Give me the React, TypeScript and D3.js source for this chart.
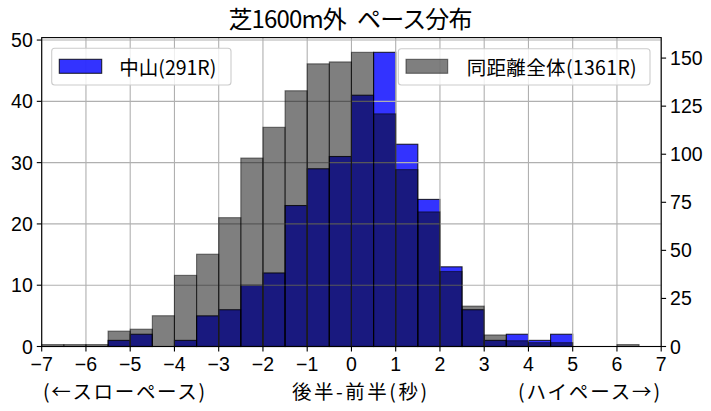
import React from "react";
import * as d3 from "d3";

const binStarts = [-7, -6.5, -6, -5.5, -5, -4.5, -4, -3.5, -3, -2.5, -2, -1.5, -1, -0.5, 0, 0.5, 1, 1.5, 2, 2.5, 3, 3.5, 4, 4.5, 5, 5.5, 6, 6.5];
const nakayama = [0, 0, 0, 1, 2, 0, 1, 5, 6, 10, 12, 23, 29, 31, 41, 48, 33, 24, 13, 6, 1, 2, 1, 2, 0, 0, 0, 0];
const allSame = [1, 1, 1, 8, 9, 16, 37, 48, 67, 98, 114, 133, 147, 148, 153, 121, 92, 70, 39, 21, 6, 3, 2, 2, 0, 0, 1, 0];
const binWidth = 0.5;
const xTicks = [-7, -6, -5, -4, -3, -2, -1, 0, 1, 2, 3, 4, 5, 6, 7];
const leftTicks = [0, 10, 20, 30, 40, 50];
const rightTicks = [0, 25, 50, 75, 100, 125, 150];
const title = "芝1600m外\u2002ペース分布";
const legendLeft = "中山(291R)";
const legendRight = "同距離全体(1361R)";
const xLabel = "後半-前半(秒)";
const slowLabel = "(←スローペース)";
const highLabel = "(ハイペース→)";

const FONT = "'Noto Sans CJK JP', 'Noto Sans', sans-serif";
const NUMFONT = "'Liberation Sans', 'Noto Sans', sans-serif";

export default function App() {
  const W = 711, H = 411;
  const left = 41.7, right = 661.2, top = 37.6, bottom = 346.5;
  const x = d3.scaleLinear().domain([-7, 7]).range([left, right]);
  const yL = d3.scaleLinear().domain([0, d3.max(nakayama)! * 1.05]).range([bottom, top]);
  const yR = d3.scaleLinear().domain([0, d3.max(allSame)! * 1.05]).range([bottom, top]);
  const tickLen = 4.9;
  const fs = 19.5;

  return (
    <svg width={W} height={H} style={{ position: "absolute", left: 0, top: 0, background: "#fff" }} fontFamily={FONT}>
      {/* blue bars (ax1) */}
      <g>
        {binStarts.map((b, i) =>
          nakayama[i] > 0 ? (
            <rect key={"b" + i} x={x(b)} y={yL(nakayama[i])} width={x(b + binWidth) - x(b)} height={bottom - yL(nakayama[i])}
              fill="rgba(0,0,255,0.8)" stroke="rgba(0,0,0,0.8)" strokeWidth={1.1} />
          ) : null
        )}
      </g>
      {/* grid */}
      <g stroke="#b0b0b0" strokeWidth={1.1}>
        {xTicks.map((t) => (
          <line key={"gx" + t} x1={x(t)} x2={x(t)} y1={top} y2={bottom} />
        ))}
        {leftTicks.map((t) => (
          <line key={"gy" + t} x1={left} x2={right} y1={yL(t)} y2={yL(t)} />
        ))}
      </g>
      {/* gray bars (ax2) */}
      <g>
        {binStarts.map((b, i) =>
          allSame[i] > 0 ? (
            <rect key={"g" + i} x={x(b)} y={yR(allSame[i])} width={x(b + binWidth) - x(b)} height={bottom - yR(allSame[i])}
              fill="rgba(0,0,0,0.5)" stroke="rgba(0,0,0,0.5)" strokeWidth={1.1} />
          ) : null
        )}
      </g>
      {/* spines */}
      <rect x={left} y={top} width={right - left} height={bottom - top} fill="none" stroke="#000" strokeWidth={1.1} />
      {/* x ticks */}
      <g fontFamily={NUMFONT}>
        {xTicks.map((t) => (
          <g key={"xt" + t}>
            <line x1={x(t)} x2={x(t)} y1={bottom} y2={bottom + tickLen} stroke="#000" strokeWidth={1.1} />
            <text x={x(t)} y={370.5} fontSize={fs} textAnchor="middle">
              {t < 0 ? "\u2212" + Math.abs(t) : String(t)}
            </text>
          </g>
        ))}
      </g>
      {/* left ticks */}
      <g fontFamily={NUMFONT}>
        {leftTicks.map((t) => (
          <g key={"lt" + t}>
            <line x1={left - tickLen} x2={left} y1={yL(t)} y2={yL(t)} stroke="#000" strokeWidth={1.1} />
            <text x={left - tickLen - 4} y={yL(t) + 7} fontSize={fs} textAnchor="end">{t}</text>
          </g>
        ))}
      </g>
      {/* right ticks */}
      <g fontFamily={NUMFONT}>
        {rightTicks.map((t) => (
          <g key={"rt" + t}>
            <line x1={right} x2={right + tickLen} y1={yR(t)} y2={yR(t)} stroke="#000" strokeWidth={1.1} />
            <text x={right + tickLen + 4} y={yR(t) + 7} fontSize={fs} textAnchor="start">{t}</text>
          </g>
        ))}
      </g>
      {/* title */}
      <text x={(left + right) / 2 - 1} y={28} fontSize={24} textAnchor="middle" textLength={244} lengthAdjust="spacing">{title}</text>
      {/* x labels */}
      <text x={43} y={399} fontSize={fs} textLength={162} lengthAdjust="spacing">{slowLabel}</text>
      <text x={292} y={399} fontSize={fs} textLength={135} lengthAdjust="spacing">{xLabel}</text>
      <text x={518} y={399} fontSize={fs} textLength={142} lengthAdjust="spacing">{highLabel}</text>
      {/* legends */}
      <g>
        <rect x={51.7} y={48.3} width={179.3} height={36.7} rx={3} fill="rgba(255,255,255,0.8)" stroke="#cccccc" strokeWidth={1.1} />
        <rect x={59.3} y={59.3} width={42.4} height={14} fill="rgba(0,0,255,0.8)" stroke="rgba(0,0,0,0.8)" strokeWidth={1.1} />
        <text x={119.3} y={66.5} fontSize={fs} dominantBaseline="central">{legendLeft}</text>
      </g>
      <g>
        <rect x={398.3} y={48.7} width={251.7} height={36.3} rx={3} fill="rgba(255,255,255,0.8)" stroke="#cccccc" strokeWidth={1.1} />
        <rect x={406} y={59.3} width={41.7} height={14} fill="rgba(0,0,0,0.5)" stroke="rgba(0,0,0,0.5)" strokeWidth={1.1} />
        <text x={466.7} y={66.5} fontSize={fs} dominantBaseline="central" textLength={170} lengthAdjust="spacing">{legendRight}</text>
      </g>
    </svg>
  );
}
